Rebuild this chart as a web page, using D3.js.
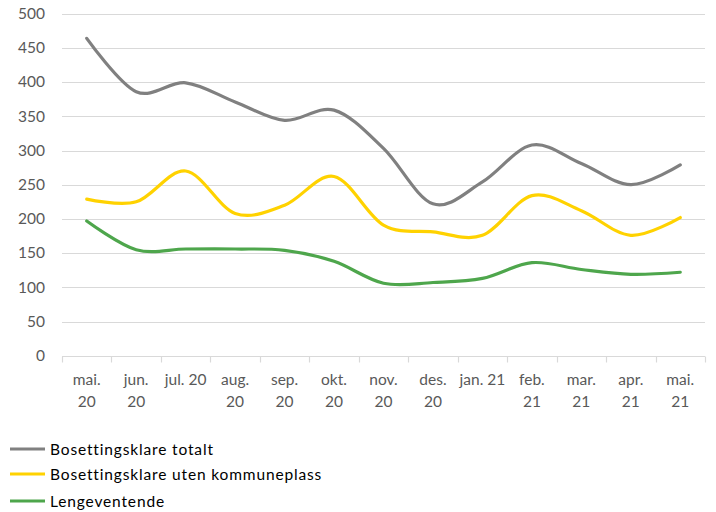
<!DOCTYPE html>
<html>
<head>
<meta charset="utf-8">
<script src="https://cdn.jsdelivr.net/npm/d3@7"></script>
<style>
  html, body { margin: 0; padding: 0; background: #fff; }
  svg { display: block; }
  text { font-family: Lato, "Liberation Sans", sans-serif; }
</style>
</head>
<body>
<svg id="chart" width="716" height="512"></svg>
<script>
const categories = ["mai. 20","jun. 20","jul. 20","aug. 20","sep. 20","okt. 20","nov. 20","des. 20","jan. 21","feb. 21","mar. 21","apr. 21","mai. 21"];
const tickLabelLines = [["mai.","20"],["jun.","20"],["jul. 20"],["aug.","20"],["sep.","20"],["okt.","20"],["nov.","20"],["des.","20"],["jan. 21"],["feb.","21"],["mar.","21"],["apr.","21"],["mai.","21"]];
const totalt = [464, 386, 399, 371, 344, 359, 303, 222, 254, 308, 281, 250, 279];
const utenKommuneplass = [229, 225, 270, 208, 220, 262, 191, 181, 176, 234, 212, 176, 202];
const lengeventende = [197, 155, 156, 156, 154, 138, 106, 107, 113, 136, 126, 119, 122];
const yTicks = [0, 50, 100, 150, 200, 250, 300, 350, 400, 450, 500];
const seriesNames = ["Bosettingsklare totalt", "Bosettingsklare uten kommuneplass", "Lengeventende"];
const seriesColors = ["#808080", "#ffd200", "#4ea64c"];

const series = [totalt, utenKommuneplass, lengeventende];

const svg = d3.select("#chart");
const plotLeft = 62, plotRight = 705, plotTop = 13.7, plotBottom = 355.7;

const x = d3.scaleBand().domain(categories).range([plotLeft, plotRight]).padding(0);
const y = d3.scaleLinear().domain([0, 500]).range([plotBottom, plotTop]);

// gridlines
svg.append("g").selectAll("line").data(yTicks.filter(d => d > 0)).join("line")
  .attr("x1", plotLeft).attr("x2", plotRight)
  .attr("y1", d => Math.round(y(d)) + 0.5).attr("y2", d => Math.round(y(d)) + 0.5)
  .attr("stroke", "#d9d9d9").attr("stroke-width", 1.2);

// y labels
svg.append("g").selectAll("text").data(yTicks).join("text")
  .attr("x", 45).attr("y", d => y(d) + 5.3)
  .attr("text-anchor", "end")
  .attr("font-size", 15.5).attr("fill", "#595959")
  .text(d => d);

// x axis line + ticks
const xAxisY = Math.round(plotBottom) + 0.5;
svg.append("line").attr("x1", plotLeft).attr("x2", plotRight).attr("y1", xAxisY).attr("y2", xAxisY)
  .attr("stroke", "#d9d9d9").attr("stroke-width", 1.2);
const boundaries = categories.map(c => x(c)).concat([plotRight]);
svg.append("g").selectAll("line").data(boundaries).join("line")
  .attr("x1", d => Math.round(d) + 0.5).attr("x2", d => Math.round(d) + 0.5)
  .attr("y1", xAxisY).attr("y2", xAxisY + 6)
  .attr("stroke", "#d9d9d9").attr("stroke-width", 1.2);

// x labels
const xl = svg.append("g");
categories.forEach((c, i) => {
  const cx = x(c) + x.bandwidth() / 2;
  const t = xl.append("text").attr("text-anchor", "middle")
    .attr("font-size", 15.5).attr("fill", "#595959");
  tickLabelLines[i].forEach((ln, j) => {
    t.append("tspan").attr("x", cx).attr("y", 385 + j * 21.5).text(ln);
  });
});

// lines
const line = d3.line()
  .x((d, i) => x(categories[i]) + x.bandwidth() / 2)
  .y(d => y(d))
  .curve(d3.curveCardinal.tension(0));

svg.append("g").selectAll("path").data(series).join("path")
  .attr("d", d => line(d))
  .attr("fill", "none")
  .attr("stroke", (d, i) => seriesColors[i])
  .attr("stroke-width", 3.2)
  .attr("stroke-linecap", "round")
  .attr("stroke-linejoin", "round");

// legend
const legendY = [449, 474, 501];
const lg = svg.append("g");
seriesNames.forEach((n, i) => {
  lg.append("line").attr("x1", 10).attr("x2", 45).attr("y1", legendY[i]).attr("y2", legendY[i])
    .attr("stroke", seriesColors[i]).attr("stroke-width", 3.2);
  lg.append("text").attr("x", 50).attr("y", legendY[i] + 5.5)
    .attr("font-size", 15.5).attr("fill", "#000")
    .attr("letter-spacing", 0.85)
    .text(n);
});
</script>
</body>
</html>
